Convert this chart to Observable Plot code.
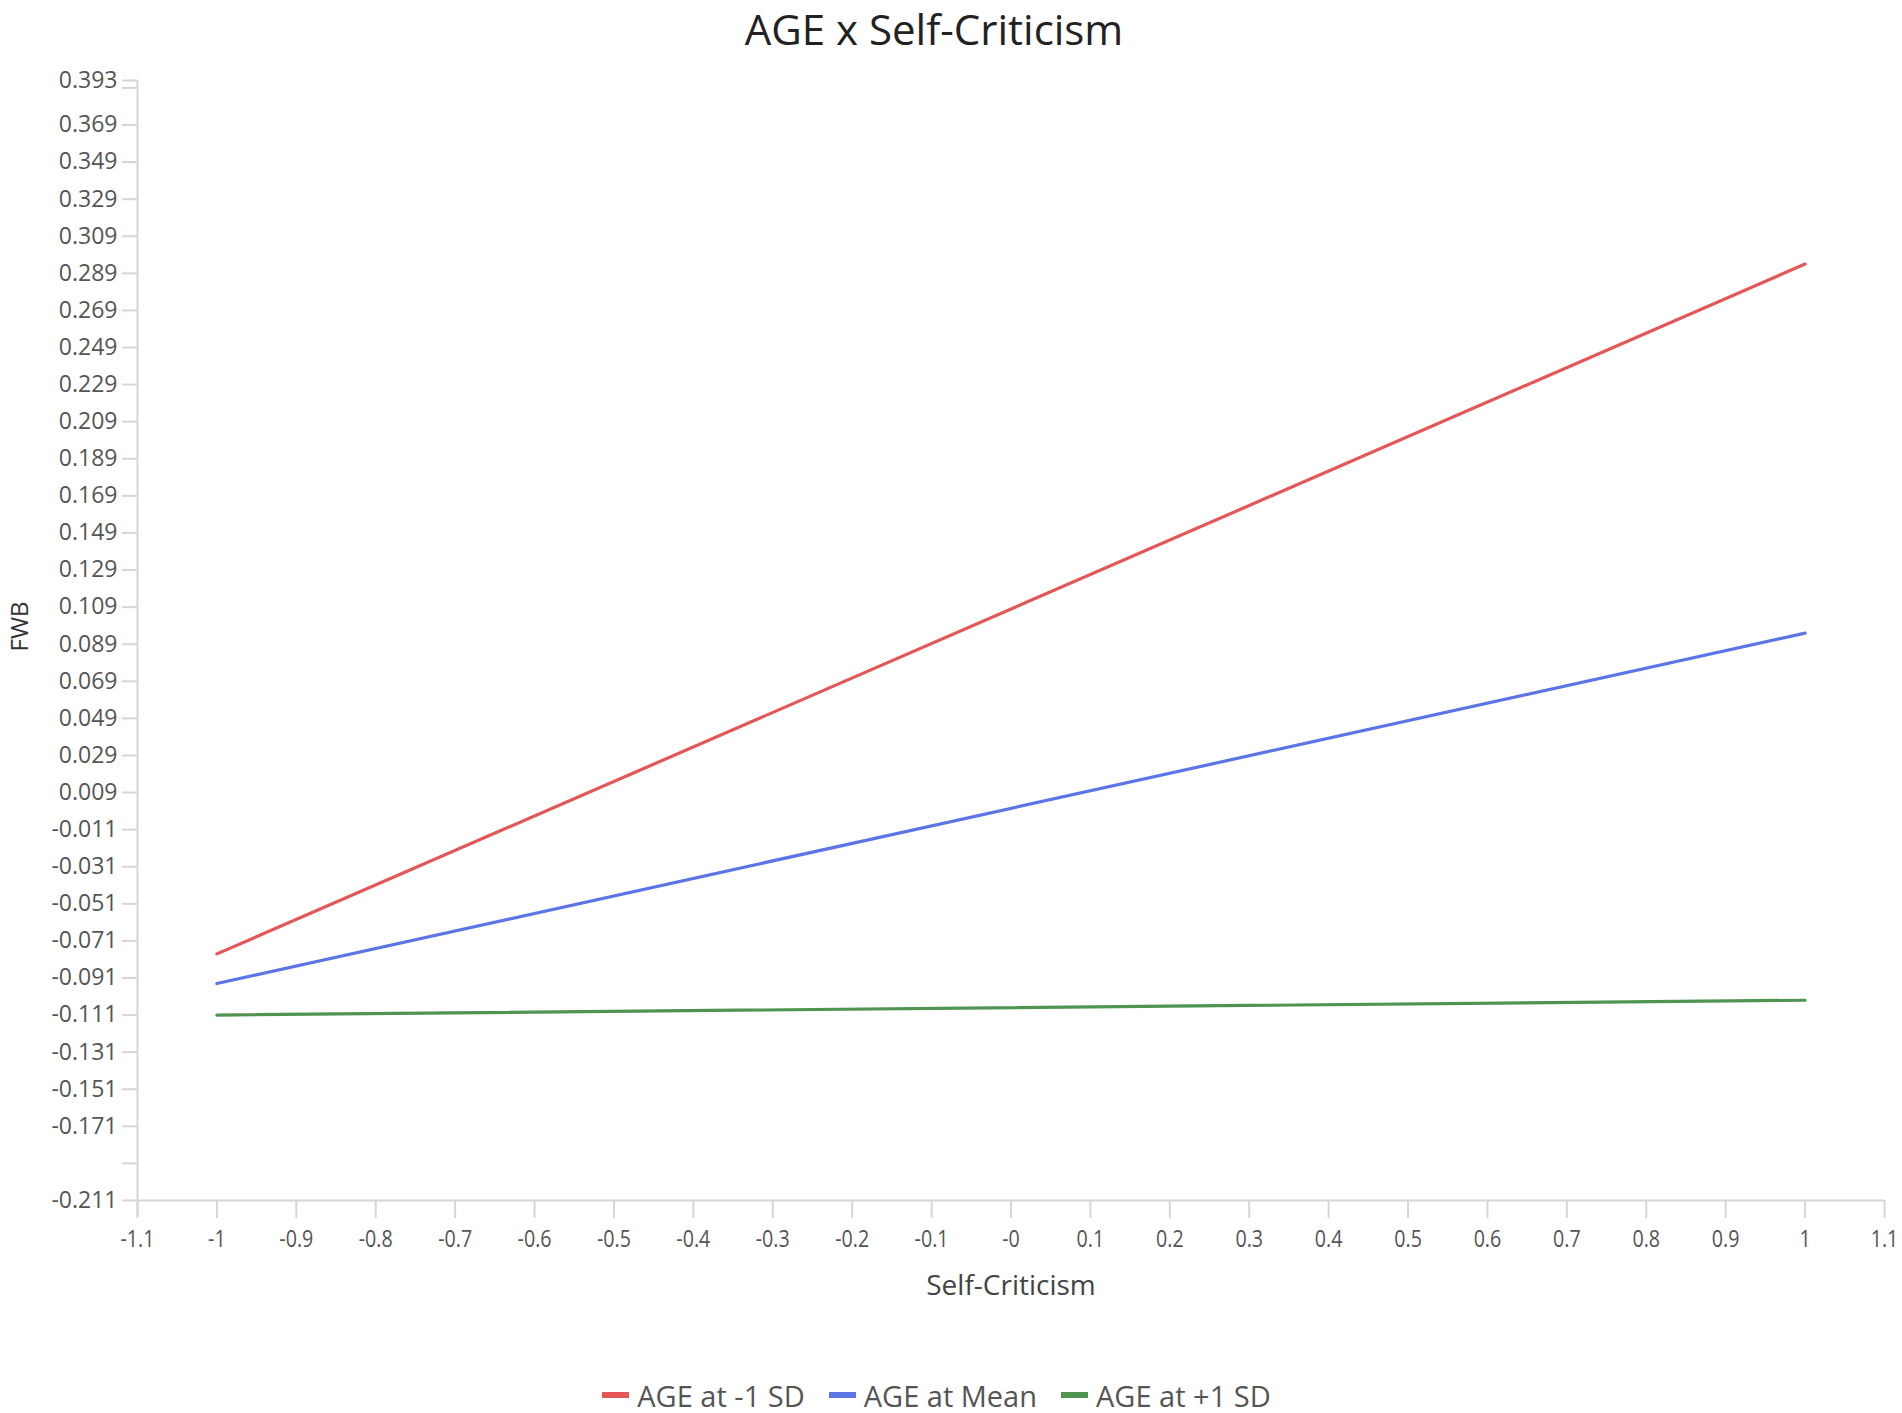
<!DOCTYPE html>
<html>
<head>
<meta charset="utf-8">
<script src="https://cdn.jsdelivr.net/npm/d3@7"></script>
<script src="https://cdn.jsdelivr.net/npm/@observablehq/plot@0.6"></script>
<style>
  html, body { margin: 0; padding: 0; background: #fff; }
  body { width: 1902px; height: 1413px; overflow: hidden; font-family: "Open Sans", sans-serif; position: relative; }
  #title { position: absolute; top: 0; left: 0; width: 1868px; text-align: center; font-size: 42px; line-height: normal; color: #222; }
  #chart { position: absolute; top: 50px; left: 0; }
  #legend { position: absolute; top: 1377px; left: 0; width: 1873px; height: 36px; display: flex; justify-content: center; align-items: center; font-size: 29px; color: #555; }
  .item { display: flex; align-items: center; margin: 0 12px; }
  .sw { width: 27px; height: 6px; margin-right: 8px; }
</style>
</head>
<body>
<div id="title">AGE x Self-Criticism</div>
<div id="chart"></div>
<div id="legend"></div>
<script>
// ---- data ----
const seriesNames = ["AGE at -1 SD", "AGE at Mean", "AGE at +1 SD"];
const seriesColors = ["#e55656", "#5b74e6", "#4f9451"];
const xValues = [-1, 1];
const ageLow = [-0.078, 0.294];
const ageMean = [-0.094, 0.095];
const ageHigh = [-0.111, -0.103];

const xTicks = [-1.1, -1, -0.9, -0.8, -0.7, -0.6, -0.5, -0.4, -0.3, -0.2, -0.1, 0, 0.1, 0.2, 0.3, 0.4, 0.5, 0.6, 0.7, 0.8, 0.9, 1, 1.1];
const xTickLabels = ["-1.1", "-1", "-0.9", "-0.8", "-0.7", "-0.6", "-0.5", "-0.4", "-0.3", "-0.2", "-0.1", "-0", "0.1", "0.2", "0.3", "0.4", "0.5", "0.6", "0.7", "0.8", "0.9", "1", "1.1"];
const yTicks = [0.393, 0.389, 0.369, 0.349, 0.329, 0.309, 0.289, 0.269, 0.249, 0.229, 0.209, 0.189, 0.169, 0.149, 0.129, 0.109, 0.089, 0.069, 0.049, 0.029, 0.009, -0.011, -0.031, -0.051, -0.071, -0.091, -0.111, -0.131, -0.151, -0.171, -0.191, -0.211];
const yTickLabels = ["0.393", "", "0.369", "0.349", "0.329", "0.309", "0.289", "0.269", "0.249", "0.229", "0.209", "0.189", "0.169", "0.149", "0.129", "0.109", "0.089", "0.069", "0.049", "0.029", "0.009", "-0.011", "-0.031", "-0.051", "-0.071", "-0.091", "-0.111", "-0.131", "-0.151", "-0.171", "", "-0.211"];
const xDomain = [-1.1, 1.1];
const yDomain = [-0.211, 0.393];

// ---- table ----
const seriesValues = [ageLow, ageMean, ageHigh];
const rows = [];
seriesNames.forEach((s, k) => xValues.forEach((x, i) => rows.push({series: s, x, y: seriesValues[k][i]})));

const lookup = (ticks, labels) => d => {
  const i = ticks.findIndex(t => Math.abs(t - d) < 1e-9);
  return i < 0 ? "" : labels[i];
};

const axisColor = "#d6d6d6";
const chart = Plot.plot({
  width: 1902,
  height: 1290,
  marginTop: 30,
  marginBottom: 140,
  marginLeft: 137,
  marginRight: 18,
  style: {fontFamily: "'Open Sans', sans-serif", background: "#fff"},
  x: {domain: xDomain},
  y: {domain: yDomain},
  color: {domain: seriesNames, range: seriesColors},
  marks: [
    Plot.ruleY([yDomain[0]], {stroke: axisColor, strokeWidth: 2}),
    Plot.ruleX([xDomain[0]], {stroke: axisColor, strokeWidth: 2, insetBottom: -16}),
    Plot.axisX({ticks: xTicks, tickFormat: lookup(xTicks, xTickLabels), tickSize: 18, tickPadding: 11,
                fontSize: 24, stroke: axisColor, strokeWidth: 2, color: "#555", label: null}),
    Plot.axisY({ticks: yTicks, tickFormat: lookup(yTicks, yTickLabels), tickSize: 15, tickPadding: 5,
                fontSize: 23, stroke: axisColor, strokeWidth: 2, color: "#555", label: null}),
    Plot.text(["Self-Criticism"], {frameAnchor: "bottom", dy: 94, fontSize: 28, fill: "#444"}),
    Plot.text(["FWB"], {frameAnchor: "left", rotate: -90, dx: -117, dy: 11, fontSize: 24, fill: "#333"}),
    Plot.line(rows, {x: "x", y: "y", z: "series", stroke: "series", strokeWidth: 3.2})
  ]
});
document.getElementById("chart").appendChild(chart);

// condensed look of x-axis tick labels
chart.querySelectorAll('g[aria-label="x-axis tick label"] text').forEach(t => {
  t.setAttribute("transform", (t.getAttribute("transform") || "") + " scale(0.82,1)");
});

const legend = document.getElementById("legend");
seriesNames.forEach((s, i) => {
  const item = document.createElement("div");
  item.className = "item";
  item.innerHTML = `<div class="sw" style="background:${seriesColors[i]}"></div><span>${s}</span>`;
  legend.appendChild(item);
});
</script>
</body>
</html>
